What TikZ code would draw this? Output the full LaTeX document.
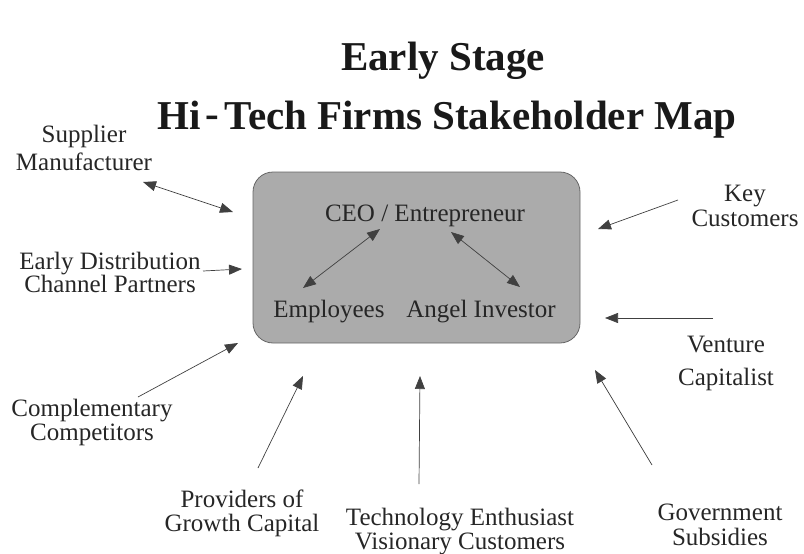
\documentclass[tikz,border=0pt]{standalone}
\usepackage{fontspec}
\setmainfont{Liberation Serif}
\usetikzlibrary{arrows.meta}
\begin{document}
\begin{tikzpicture}[x=1pt,y=-1pt,
  lbl/.style={inner sep=0pt,align=center,font=\fontsize{25}{24}\selectfont,text=black!85},
  ttl/.style={inner sep=0pt,align=center,font=\fontsize{41}{48}\selectfont\bfseries,text=black!90},
  conn/.style={draw=black!75,line width=0.7pt,-{Triangle[length=13pt,width=10pt]}},
  bconn/.style={draw=black!75,line width=0.7pt,{Triangle[length=13pt,width=10pt]}-{Triangle[length=13pt,width=10pt]}},
  hub/.style={draw=black!60,fill=black!33,rounded corners=20pt,line width=0.8pt}]
\useasboundingbox (0,0) rectangle (804,554);
% title
\node[ttl] (t1) at (443,61) {Early Stage};
\node[ttl] (t2) at (447,120) {Hi\kern5pt\raisebox{2pt}{-}\kern5pt Tech Firms Stakeholder Map};
% central box
\node[hub,minimum width=327pt,minimum height=171pt] (box) at (416.5,257.5) {};
\node[lbl] (ceo) at (425,216) {CEO / Entrepreneur};
\node[lbl] (emp) at (329,312) {Employees};
\node[lbl] (ang) at (481,312) {Angel Investor};
\coordinate (ceoL) at (380,229);
\coordinate (ceoR) at (451,232);
\coordinate (empT) at (303,288);
\coordinate (angT) at (520,287);
\draw[bconn] (empT) -- (ceoL);
\draw[bconn] (angT) -- (ceoR);
% outer labels
\node[lbl] (sup) at (84,148) {Supplier\\[4pt]Manufacturer};
\node[lbl] (edc) at (110,272) {Early Distribution\\[-1pt]Channel Partners};
\node[lbl] (key) at (745,206) {Key\\[1pt]Customers};
\node[lbl] (vc) at (726,363) {Venture\\[9pt]Capitalist};
\node[lbl] (cc) at (92,422) {Complementary\\Competitors};
\node[lbl] (pgc) at (242,513) {Providers of\\Growth Capital};
\node[lbl] (tec) at (460,532) {Technology Enthusiast\\Visionary Customers};
\node[lbl] (gov) at (720,525) {Government\\[1pt]Subsidies};
% connector ends
\coordinate (supA) at (143,182);
\coordinate (supB) at (233,212);
\coordinate (edcA) at (203,271);
\coordinate (edcB) at (242,269);
\coordinate (keyA) at (678,200);
\coordinate (keyB) at (598,229);
\coordinate (vcA) at (713,318);
\coordinate (vcB) at (605,318);
\coordinate (ccA) at (138,397);
\coordinate (ccB) at (238,343);
\coordinate (pgcA) at (258,468);
\coordinate (pgcB) at (303,376);
\coordinate (tecA) at (419,484);
\coordinate (tecB) at (420,376);
\coordinate (govA) at (652,465);
\coordinate (govB) at (595,370);
\draw[bconn] (supA) -- (supB);
\draw[conn] (edcA) -- (edcB);
\draw[conn] (keyA) -- (keyB);
\draw[conn] (vcA) -- (vcB);
\draw[conn] (ccA) -- (ccB);
\draw[conn] (pgcA) -- (pgcB);
\draw[conn] (tecA) -- (tecB);
\draw[conn] (govA) -- (govB);
\end{tikzpicture}
\end{document}
